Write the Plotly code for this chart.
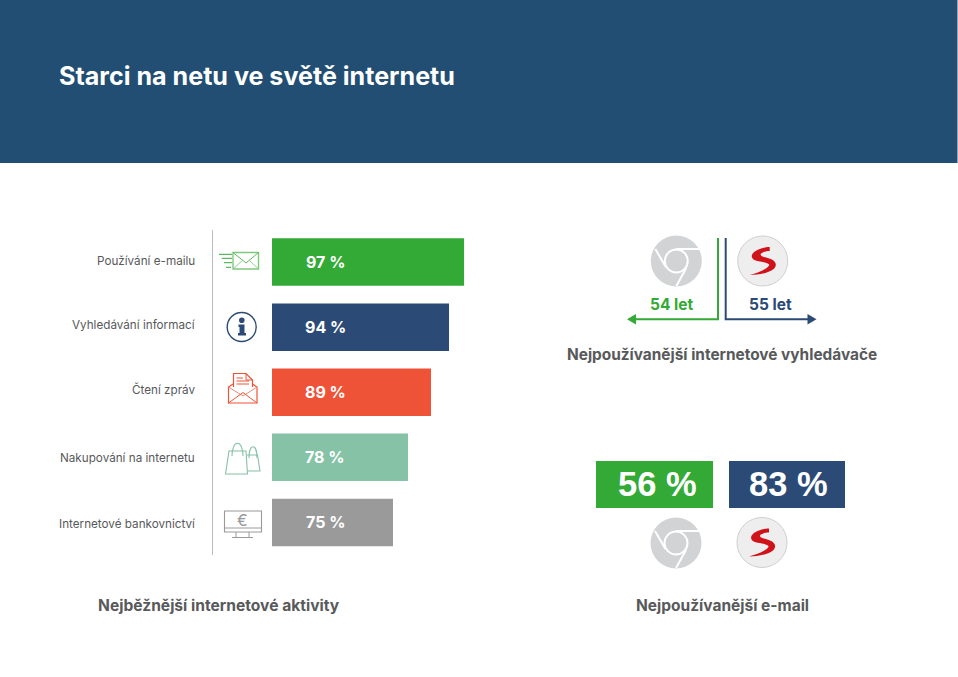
import plotly.graph_objects as go

# Data
activities = ["Používání e-mailu", "Vyhledávání informací", "Čtení zpráv",
              "Nakupování na internetu", "Internetové bankovnictví"]
activity_values = [97, 94, 89, 78, 75]
# bars in the original are not proportional to their labels, these are the lengths as drawn
drawn_lengths = [97, 89.4, 80.3, 68.7, 61.1]
bar_colors = ["#33a936", "#2b4a75", "#ee5338", "#85c2a6", "#9a9a9a"]
label_shift = [1, 2, 3, -1, -2]

age_labels = ["54 let", "55 let"]
email_values = [56, 83]

FONT = "Inter"
GREEN = "#33a936"
BLUE = "#2b4a75"
TEXT = "#58595b"

fig = go.Figure()

fig.add_trace(go.Bar(
    y=activities, x=drawn_lengths, orientation="h",
    marker=dict(color=bar_colors, line=dict(width=0)),
    width=0.73, hoverinfo="skip", showlegend=False,
))

shapes = []


def add_shape(kind, **kw):
    kw.setdefault("line", dict(width=0))
    shapes.append(dict(type=kind, xref="x2", yref="y2", layer="above", **kw))


def rect(x0, y0, x1, y1, fill=None, line=None, width=1):
    add_shape("rect", x0=x0, y0=y0, x1=x1, y1=y1,
              fillcolor=fill if fill else "rgba(0,0,0,0)",
              line=dict(color=line, width=width) if line else dict(width=0))


def circle(cx, cy, r, fill=None, line=None, width=1):
    add_shape("circle", x0=cx - r, y0=cy - r, x1=cx + r, y1=cy + r,
              fillcolor=fill if fill else "rgba(0,0,0,0)",
              line=dict(color=line, width=width) if line else dict(width=0))


def seg(x0, y0, x1, y1, color, width=1):
    add_shape("line", x0=x0, y0=y0, x1=x1, y1=y1, line=dict(color=color, width=width))


def path(d, fill=None, line=None, width=1):
    add_shape("path", path=d,
              fillcolor=fill if fill else "rgba(0,0,0,0)",
              line=dict(color=line, width=width) if line else dict(width=0))


def chrome_logo(cx, cy):
    circle(cx, cy, 25.5, fill="#d1d3d4")
    circle(cx, cy, 11.5, fill="#d1d3d4", line="white", width=2)
    seg(cx - 21, cy - 12, cx - 10.5, cy + 6, "white", 2)
    seg(cx, cy - 12, cx + 23, cy - 12, "white", 2)
    seg(cx + 10, cy + 7, cx, cy + 25, "white", 2)


def seznam_logo(cx, cy):
    circle(cx, cy, 25, fill="#eeeeee", line="#cfcfcf", width=1)
    start = (7, -14)
    curves = [(1, -14, -10, -11, -11, -5), (-11, -1, -6, 0, 0, 1), (4, 2, 8, 3, 6, 5),
              (3, 9, -6, 12, -13, 14), (-4, 14, 6, 12, 11, 8), (15, 4, 13, 0, 8, -2),
              (4, -4, -3, -4, -2, -7), (-1, -9, 4, -10, 7, -10)]
    d = "M %g,%g" % (cx + start[0], cy + start[1])
    for c in curves:
        d += " C %g,%g %g,%g %g,%g" % (cx + c[0], cy + c[1], cx + c[2], cy + c[3], cx + c[4], cy + c[5])
    path(d + " Z", fill="#d0121b")


# header
rect(0, 0, 957.5, 163, fill="#214e72")

# axis line next to the icons
seg(212.5, 230, 212.5, 555, "#bdbdbd", 1)

# mail icon
rect(233, 252.5, 258.5, 269, line="#7fc97f", width=1.4)
path("M 233,252.5 L 246,263 L 258.5,252.5", line="#5cb85c", width=1)
seg(233, 269, 243, 260, "#8fd08f", 1)
seg(258.5, 269, 249, 260, "#8fd08f", 1)
seg(219, 254.3, 232, 254.3, GREEN, 1)
seg(221.7, 258.3, 232, 258.3, GREEN, 1)
seg(224, 262.7, 232, 262.7, GREEN, 1)
seg(226, 267.3, 231, 267.3, GREEN, 1)

# info icon
circle(241.7, 327, 14.5, line=BLUE, width=1.4)
circle(241.8, 320.3, 2.8, fill=BLUE)
path("M 238.5,324.5 L 244.5,324.5 L 244.5,333 L 246,333 L 246,335.5 L 238,335.5 "
     "L 238,333 L 239.5,333 L 239.5,327 L 238.5,327 Z", fill=BLUE)

# read mail icon
path("M 233.5,387 L 233.5,373.5 L 246,373.5 L 252.5,380 L 252.5,387", line="#ee5338", width=1.2)
path("M 246,373.5 L 246,380 L 252.5,380", line="#ee5338", width=1)
seg(236.5, 378, 243, 378, "#ee5338", 1)
seg(236.5, 381, 249, 381, "#ee5338", 1)
seg(236.5, 384, 249, 384, "#ee5338", 1)
path("M 233,384 L 228.5,387 L 228.5,403 L 257,403 L 257,387 L 252.5,384",
     line="#ee5338", width=1.2)
path("M 228.5,387 L 243,396 L 257,387", line="#f28a76", width=1)
seg(228.5, 403, 243, 392.5, "#ee5338", 1)
seg(257, 403, 243, 392.5, "#ee5338", 1)

# shopping bags
BAG = "#85c2a6"
path("M 229,451 L 246,451 L 247.5,474 L 225.5,474 Z", line=BAG, width=1.1)
path("M 232,456 C 232,439 243,439 243,456", line=BAG, width=1.1)
path("M 247,455 L 257.5,455 L 260,471 L 248,471", line=BAG, width=1.1)
path("M 249,458 C 249,443 257,443 257,458", line=BAG, width=1.1)

# monitor with euro
MON = "#9a9a9a"
rect(224.5, 511, 261.5, 532, line=MON, width=1.1)
seg(224.5, 528, 261.5, 528, MON, 1)
seg(236, 532, 236, 537, MON, 1)
seg(249, 532, 249, 537, MON, 1)
seg(232, 537.5, 253, 537.5, MON, 1)

# search engines block
chrome_logo(676.3, 261)
seznam_logo(762.7, 261)
path("M 718,238 L 718,319.3 L 634,319.3", line=GREEN, width=2)
path("M 627,319.3 L 636,314 L 636,324.6 Z", fill=GREEN)
path("M 725.7,238 L 725.7,319.3 L 809,319.3", line=BLUE, width=2)
path("M 816.5,319.3 L 807.5,314 L 807.5,324.6 Z", fill=BLUE)

# e-mail block
rect(596, 461, 713, 508, fill=GREEN)
rect(729, 461, 845, 508, fill=BLUE)
chrome_logo(676, 543)
seznam_logo(762, 542.5)


annotations = []


def text(s, x, y, size, color, bold=True, anchor="center", family=FONT):
    annotations.append(dict(
        text="<b>%s</b>" % s if bold else s, xref="x2", yref="y2", x=x, y=y,
        showarrow=False, xanchor=anchor, yanchor="middle",
        font=dict(family=family, size=size, color=color),
    ))


text("Starci na netu ve světě internetu", 56.5, 76, 25.1, "white", anchor="left")
text("€", 242, 520, 16, MON, bold=False)

for name, val, shift in zip(activities, activity_values, label_shift):
    annotations.append(dict(
        text=name, xref="paper", yref="y", x=197 / 958, y=name, yshift=shift,
        showarrow=False, xanchor="right", yanchor="middle",
        font=dict(family=FONT, size=11.7, color=TEXT),
    ))
    annotations.append(dict(
        text="<b>%d %%</b>" % val, xref="paper", yref="y", x=325 / 958, y=name,
        showarrow=False, xanchor="center", yanchor="middle",
        font=dict(family=FONT, size=16, color="white"),
    ))

text(age_labels[0], 671, 304, 15.5, GREEN)
text(age_labels[1], 770, 304, 15.5, BLUE)
text("Nejpoužívanější internetové vyhledávače", 721.5, 354, 15.4, TEXT)
text("%d %%" % email_values[0], 657, 483.5, 34.5, "white", family="Liberation Sans")
text("%d %%" % email_values[1], 788.5, 483.5, 34.5, "white", family="Liberation Sans")
text("Nejběžnější internetové aktivity", 219, 605, 15.6, TEXT)
text("Nejpoužívanější e-mail", 722, 605, 15.5, TEXT)

fig.update_layout(
    width=958, height=677,
    margin=dict(l=0, r=0, t=0, b=0),
    paper_bgcolor="white", plot_bgcolor="rgba(0,0,0,0)",
    font=dict(family=FONT),
    bargap=0.27,
    # bar axes: 1.98 px per unit, starting at x=272
    xaxis=dict(domain=[272 / 958, 472 / 958], range=[0, 101], visible=False, fixedrange=True),
    yaxis=dict(domain=[1 - 555 / 677, 1 - 229.5 / 677], autorange="reversed", visible=False,
               categoryorder="array", categoryarray=activities, fixedrange=True),
    # whole page axes, one unit is one pixel
    xaxis2=dict(domain=[0, 1], range=[0, 958], visible=False, anchor="y2", fixedrange=True),
    yaxis2=dict(domain=[0, 1], range=[677, 0], visible=False, anchor="x2", fixedrange=True),
    shapes=shapes,
    annotations=annotations,
)
# the page axes need a trace to exist
fig.add_trace(go.Scatter(x=[0], y=[0], xaxis="x2", yaxis="y2", mode="markers",
                         marker=dict(opacity=0), hoverinfo="skip", showlegend=False))

fig.write_html("out.html", config=dict(displayModeBar=False),
               post_script="document.body.style.margin='0';document.body.style.overflow='hidden';")
